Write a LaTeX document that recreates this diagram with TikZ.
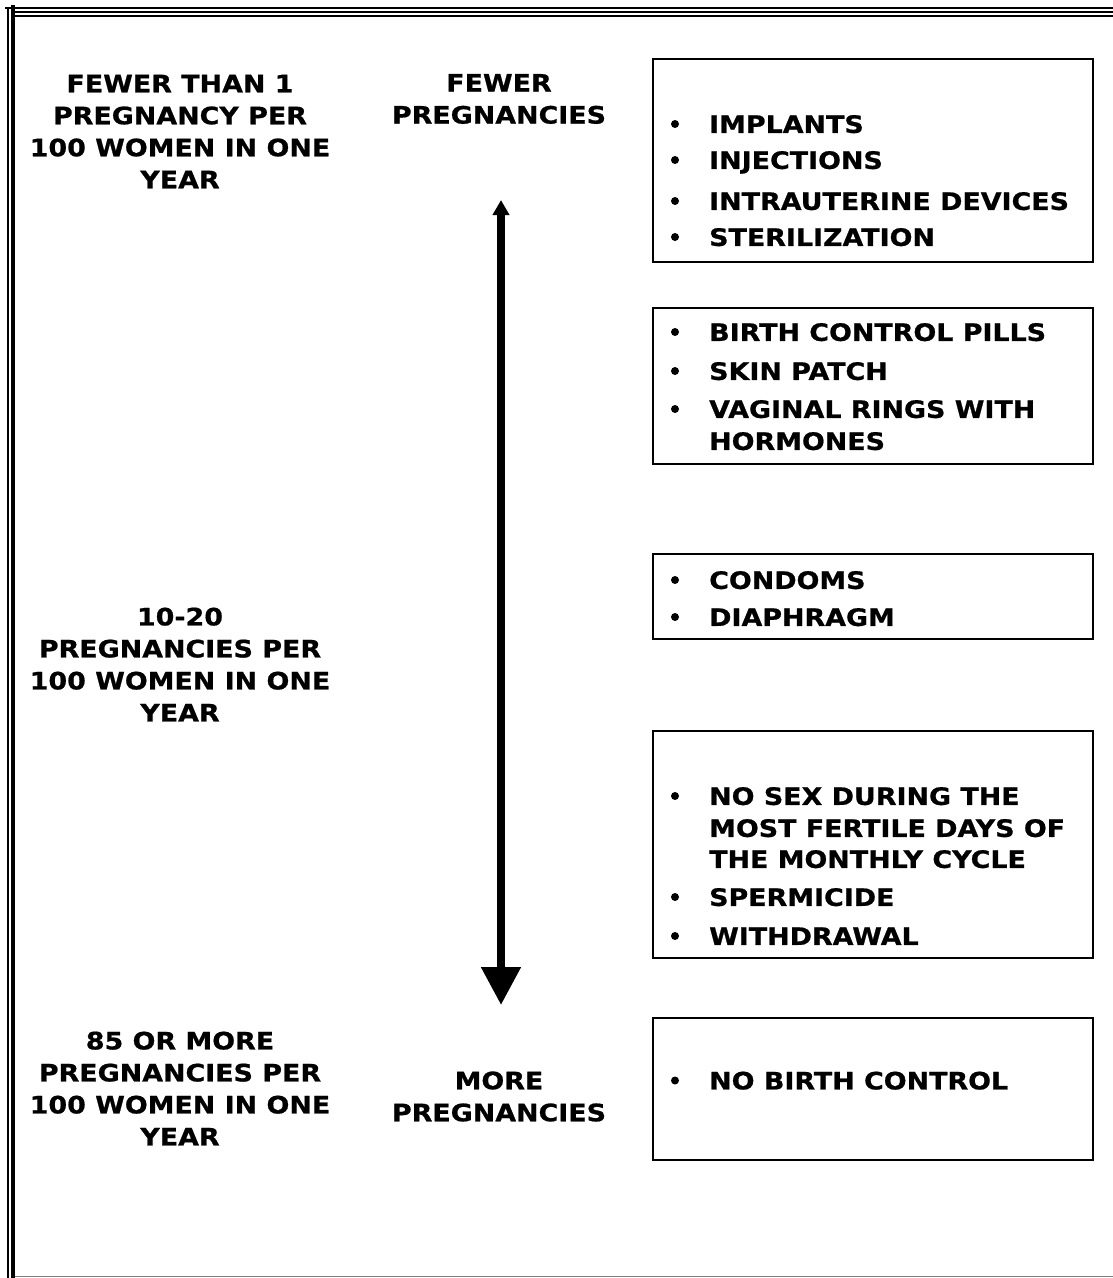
\documentclass[tikz,border=0pt]{standalone}
\usepackage{fontspec}
\setmainfont{DejaVu Sans}[FakeStretch=1.12, BoldFeatures={FakeBold=0.8}]
\usetikzlibrary{arrows.meta}

\tikzset{
  rate text/.style={font=\bfseries\fontsize{24}{32}\selectfont, align=center, inner sep=0pt},
  item text/.style={font=\bfseries\fontsize{24}{32}\selectfont, anchor=base west, inner sep=0pt},
  method box/.style={draw, line width=1.9pt, minimum width=440pt, inner sep=0pt},
  frame line/.style={line width=1.5pt},
}

\begin{document}
\begin{tikzpicture}[x=1pt,y=-1pt]
\useasboundingbox (0,0) rectangle (1113,1278);

% Frame
\draw[frame line] (5,8) -- (1113,8);
\draw[frame line] (15,12) -- (1113,12);
\draw[frame line] (15,16) -- (1113,16);
\draw[line width=1.2pt] (8,8) -- (8,1278);
\draw[line width=4pt] (13,5) -- (13,1278);
\draw[gray, line width=1.5pt] (15,1276.5) -- (1113,1276.5);

% Rates
\node[rate text] (fewer rate) at (180,131.5) {FEWER THAN 1\\PREGNANCY PER\\100 WOMEN IN ONE\\YEAR};
\node[rate text] (mid rate) at (180,664.5) {10-20\\PREGNANCIES PER\\100 WOMEN IN ONE\\YEAR};
\node[rate text] (more rate) at (180,1088.5) {85 OR MORE\\PREGNANCIES PER\\100 WOMEN IN ONE\\YEAR};
\node[rate text] (fewer) at (499,99) {FEWER\\PREGNANCIES};
\node[rate text] (more) at (499,1096.5) {MORE\\PREGNANCIES};

% Arrow
\coordinate (arrow top) at (501,200);
\coordinate (arrow bottom) at (501,1005);
\draw[line width=8pt, {Triangle[length=15pt,width=16pt]}-{Triangle[length=38pt,width=38pt]}] (arrow top) -- (arrow bottom);

% Boxes
\node[method box, minimum height=202.4pt] (long acting) at (873,160.5) {};
\node[method box, minimum height=156.6pt] (hormonal) at (873,386) {};
\node[method box, minimum height=85pt] (barrier) at (873,596.5) {};
\node[method box, minimum height=227pt] (behaviour) at (873,844.5) {};
\node[method box, minimum height=141.7pt] (none) at (873,1089) {};

% Items
\foreach \y/\t in {124/IMPLANTS, 160/INJECTIONS, 201/INTRAUTERINE DEVICES, 237/STERILIZATION,
  332/BIRTH CONTROL PILLS, 371/SKIN PATCH, 409/VAGINAL RINGS WITH,
  580/CONDOMS, 617/DIAPHRAGM,
  796/NO SEX DURING THE, 897/SPERMICIDE, 936/WITHDRAWAL,
  1080.5/NO BIRTH CONTROL}
{
  \fill (675,\y) circle (4pt);
  \node[item text] (item \y) at (709,\y+8.9) {\t};
}
\foreach \y/\t in {441/HORMONES, 828/MOST FERTILE DAYS OF, 859/THE MONTHLY CYCLE}
  \node[item text] (item \y) at (709,\y+8.9) {\t};
\end{tikzpicture}
\end{document}
